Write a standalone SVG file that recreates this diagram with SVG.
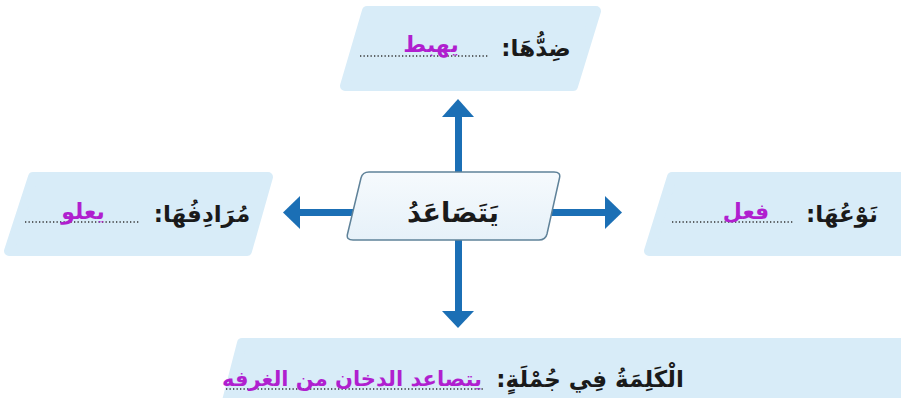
<svg xmlns="http://www.w3.org/2000/svg" width="901" height="398" viewBox="0 0 901 398">
<style>
.box{fill:#d8ecf8;stroke:#d8ecf8;stroke-width:10;stroke-linejoin:round}
.lbl{font-family:"DejaVu Sans",sans-serif;font-weight:bold;font-size:23px;fill:#1a1a1a;direction:rtl;text-anchor:middle}
.ans{font-family:"DejaVu Sans",sans-serif;font-weight:bold;font-size:22px;fill:#b01fcf;direction:rtl;text-anchor:middle}
.dots{stroke:#333;stroke-width:1.3;stroke-dasharray:1.3 2.2;fill:none}
.arr{fill:#1b6fb5}
</style>
<defs>
<linearGradient id="cg" x1="0" y1="0" x2="0" y2="1">
<stop offset="0" stop-color="#f6fafd"/><stop offset="1" stop-color="#e6f1f9"/>
</linearGradient>
</defs>
<rect width="901" height="398" fill="#ffffff"/>
<g id="connectors">
<rect class="arr" x="455" y="112" width="7" height="62"/>
<polygon class="arr" points="442,117 458,99 474,117"/>
<rect class="arr" x="295" y="209" width="60" height="7"/>
<polygon class="arr" points="300,196 283,212.5 300,229"/>
<rect class="arr" x="548" y="209" width="62" height="7"/>
<polygon class="arr" points="605,196 622,212.5 605,229"/>
<rect class="arr" x="455" y="238" width="7" height="76"/>
<polygon class="arr" points="442,311 458,328 474,311"/>
</g>
<g id="top">
<polygon class="box" points="367,11 596,11 573,86 345,86"/>
<path class="dots" d="M360,56 H488"/>
<text class="lbl" x="536" y="56">ضِدُّهَا:</text>
<text class="ans" x="431" y="52">يهبط</text>
</g>
<g id="left">
<polygon class="box" points="33,177 268,177 247,251 9,251"/>
<path class="dots" d="M25,222 H140"/>
<text class="lbl" x="202" y="222">مُرَادِفُهَا:</text>
<text class="ans" x="83" y="219">يعلو</text>
</g>
<g id="right">
<polygon class="box" points="672,177 910,177 910,251 649,251"/>
<path class="dots" d="M672,222 H793"/>
<text class="lbl" x="842" y="222">نَوْعُهَا:</text>
<text class="ans" x="746" y="219">فعل</text>
</g>
<g id="center">
<path d="M369,172 H554 Q561,172 559.5,178 L547,234 Q545.5,240 539,240 H353 Q346,240 347.5,234 L361,178 Q362.5,172 369,172 Z" fill="url(#cg)" stroke="#5f8299" stroke-width="1.5"/>
<text class="lbl" x="453" y="222" style="font-size:27px">يَتَصَاعَدُ</text>
</g>
<g id="bottom">
<polygon class="box" points="242,343 910,343 910,405 226,405"/>
<path class="dots" d="M226,389 H484"/>
<text class="lbl" x="590" y="387">الْكَلِمَةُ فِي جُمْلَةٍ:</text>
<text class="ans" x="352" y="386" style="font-size:21px">يتصاعد الدخان من الغرفه</text>
</g>
</svg>
